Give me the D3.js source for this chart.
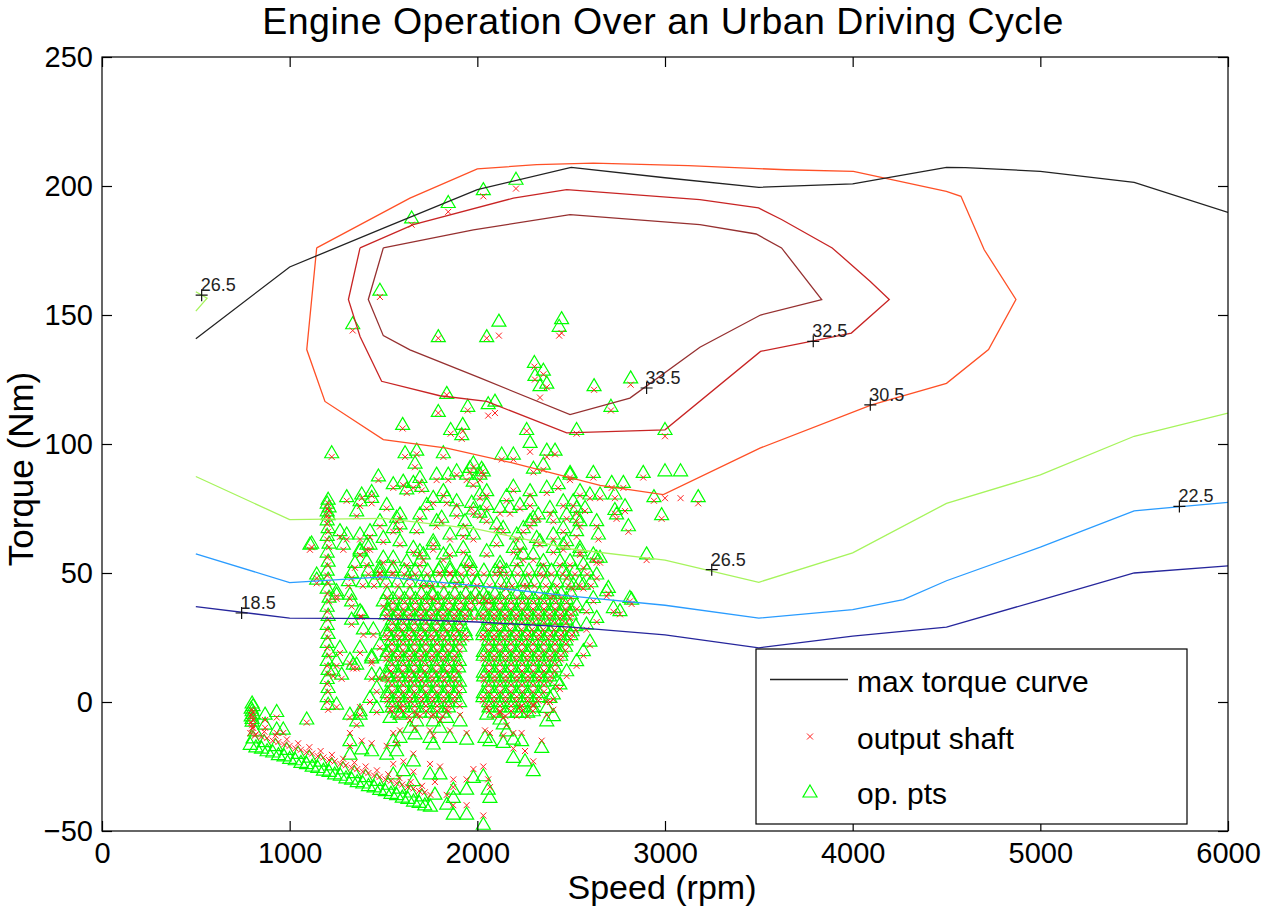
<!DOCTYPE html>
<html>
<head>
<meta charset="utf-8">
<script src="https://cdn.jsdelivr.net/npm/d3@7"></script>
<style>
  body { margin: 0; background: #fff; }
  svg { display: block; font-family: "Liberation Sans", Arial, Helvetica, sans-serif; }
</style>
</head>
<body>
<svg id="chart" width="1263" height="910"></svg>
<script>
// axis ticks
const xTicks = [0, 1000, 2000, 3000, 4000, 5000, 6000];
const yTicks = [-50, 0, 50, 100, 150, 200, 250];

// max torque curve
const maxTorqueRpm = [500, 1000, 1500, 2000, 2500, 3000, 3500, 4000, 4500, 4600, 5000, 5500, 6000];
const maxTorqueNm = [140.8, 168.6, 183.7, 198.6, 207.2, 203.2, 199.5, 200.8, 207.2, 207.1, 205.7, 201.4, 189.8];

// efficiency contours, [rpm, Nm]
const c185 = [[500,37],[1000,32.5],[1500,32.3],[2000,31],[2500,29],[3000,26],[3500,21],[4000,25.5],[4500,29],[5000,39.5],[5500,50],[6000,52.8]];
const c225 = [[500,57.4],[1000,46.3],[1500,48.5],[2000,45],[2500,41],[3000,37.5],[3500,32.5],[4000,35.8],[4270,39.7],[4500,47],[5000,60],[5500,74.1],[6000,77.4]];
const c265 = [[500,87.4],[1000,70.7],[1500,71.2],[2000,67],[2500,59.3],[3000,55],[3500,46.4],[4000,57.8],[4500,77],[5000,88],[5500,103],[6000,112]];
const c265b = [[500,151.5],[560,156.5],[500,159]];
const c305 = [[1144,176],[1641,195.3],[2000,206.6],[2316,208.3],[2618,208.9],[3124,207.9],[3644,206.3],[4004,205.7],[4499,197.9],[4577,196],[4701,175.3],[4870,156],[4724,136.6],[4500,123.5],[4101,115.2],[3506,98.4],[2991,80.4],[2654,84],[2192,92.6],[1837,98.4],[1499,101.7],[1188,116.5],[1091,136.6],[1144,176]];
const c325 = [[1375,176],[1313,156],[1375,141.7],[1490,124.3],[1800,118.7],[2050,116.5],[2476,104.3],[3000,105.5],[3509,135.9],[3778,139.8],[3993,143],[4195,156],[4094,163],[3891,176],[3621,187],[3498,191.5],[3186,194.7],[2476,198.6],[2192,195.3],[1659,185],[1375,176]];
const c335 = [[1499,176],[1419,156],[1499,142],[1641,136.5],[2014,125.6],[2494,111.4],[2813,117.8],[3186,137.5],[3509,150],[3835,156],[3621,176],[3486,181.4],[3186,185],[2494,188.9],[1979,183],[1499,176]];

const contourColors = ["#26269c", "#2a9cff", "#a6f45c", "#a6f45c", "#ff5026", "#c82424", "#963030"];

// contour labels
const labelText = ["26.5", "18.5", "33.5", "32.5", "30.5", "26.5", "22.5"];
const labelRpm = [531, 744, 2902, 3790, 4094, 3249, 5741];
const labelNm = [157.7, 34.5, 121.7, 139.8, 115.2, 51.3, 75.8];

// operating points: [rpm, engine torque, output shaft torque]
const upperPts = [
  [1650,188,185],[1845,194,190],[2032,199,196],[2206,203,199],
  [1481,160,157],[1336,147,144],[1792,142,141],[2050,142,141],[2115,148,142],[2449,149,143],[2436,146,142],
  [2304,132,130],[2352,129,127],[2307,127,125],[2370,124,122],[2334,123,118],
  [2622,123,121],[2817,126,123],[2712,115,113],[3000,106,103],[2529,106,104],[2263,106,105],
  [1837,120,119],[1792,113,112],[1949,115,113],[2058,116,111],[2094,117,112],[1602,108,106],
  [1858,106,104],[1922,108,105],[2281,101,97],[1917,104,102]
];
const midPts = [
  [1224,97,95],[1615,97,95],[1677,98,96],[1668,93,91],[1819,97,95],[1979,93,91],[2023,91,89],[2130,96.5,94],
  [2192,96.5,94],[2299,91,89],[2352,92.6,90],[2370,98,95],[2414,98,96],[2494,89.4,87],[2618,89.4,87],
  [2716,85.5,83],[2778,85.5,83],[2884,89.4,87],[3000,90,79],[3083,90,79],[3177,80,77],[2941,80,78],
  [2982,73,71],[2805,68.7,66],[2733,75,73],
  [1473,88,86],[1304,80,78],[1384,81,79],[1437,82,80],[1552,85,83],[1605,86,84],[1694,87.4,85],[1765,79.7,77],
  [1819,82.3,80],[1890,90,88],[1961,91.3,89],[1978,86,84],[2032,90,88],[2050,82.3,80],[2192,84,82],[2281,82.3,80],
  [2370,83.6,81],[2431,85,83],[2494,88.7,86],[2547,82.3,80],[2574,75.8,74],
  [1659,85.5,83],[1624,83,81],[1704,84,82],[1783,88.7,86],[1845,88.7,86],[1943,88.7,86],[2014,88.7,86],
  [1837,79.7,77],[1890,78.4,76],[1979,75.2,73],[2014,81,79],[2156,80.4,78],[2281,78.4,76],[2458,78.4,76],
  [2529,75.8,73],[2529,72,70],[2600,81,79],[2654,81,79],[2733,81,79],[2787,76.5,74],[2742,73.3,71],
  [2050,77,75],[2121,75.8,73],[2227,77,75],[2298,72,70],[2405,72,70],[2476,73.3,71],[2529,66.8,64],
  [1588,73.3,71],[1517,77,75],[1437,79.7,77],[1375,78.4,76],[1357,74.5,72],[1481,70.7,68],[1552,68,66],
  [1677,68,66],[1783,70.7,68],[1854,65.5,63],[1925,66.8,64],[1979,65.5,63],[2050,72,70],[2138,68,66],
  [2210,65.5,63],[2405,65.5,63],[1375,65.5,63],[1268,66.8,64],[1428,66.8,64],
  [1304,65.5,63],[1588,69.4,67],[1570,72,70],[1694,73.3,71],[1730,77,75],[1810,72,70],[1890,74.5,72],
  [1934,70.7,68],[1970,77.8,75],[2014,74,72],[2103,69.4,67],[2174,75.8,73],[2245,68,66],[2281,70.7,68],
  [2325,73.3,71],[2387,75.8,73],[2458,68,66],[2511,78.4,76],[2547,70.7,68],[2636,70.7,68],[2645,65.5,63]
];
const partLoadPts = [
  [1108,61.6,59],[1411,61.6,59],[1499,64.2,62],[1117,62,60],[1286,61.6,59],[1330,50.6,48],[1375,59,57],
  [1428,61.6,59],[1411,55.2,53],[1481,52.6,50],[1552,56.5,54],[1659,60.3,58],[1694,55.2,53],[1765,62.9,61],
  [1819,57.8,55],[1854,52.6,50],[1925,60.3,58],[1961,54.5,52],[2050,59,57],[2103,62.9,61],[2121,54.5,52],
  [2192,60.3,58],[2245,57.8,55],[2316,64.2,62],[2352,55.2,53],[2405,60.3,58],[2476,62.9,61],[2494,55.2,53],
  [2547,60.3,58],[2618,57.8,55],
  [1144,50,48],[1250,43.5,41],[1321,42.2,40],[1375,59.7,57],[1499,56.5,54],[1481,50,48],[1552,52.6,50],
  [1624,55.2,53],[1641,50,48],[1712,57.8,55],[1730,47.4,45],[1765,42.2,40],[1801,52.6,50],[1854,59,57],
  [1890,48.7,46],[1943,55.2,53],[1997,47.4,45],[2050,40.9,39],[2121,52.6,50],[2156,46.1,44],[2210,55.2,53],
  [2263,47.4,45],[2298,57.8,55],[2352,51.3,49],[2405,43.5,41],[2440,55.2,53],[2476,50,48],[2511,46.1,44],
  [2565,53.9,52],[2565,46.1,44],[2618,40.9,39],[2689,43.5,41],[2725,37,35],[2813,40.9,39],[2902,57.8,55],
  [2654,56.5,54],[2636,50,48],[2582,37,35],[2636,33.2,31],[2760,35.8,34],[2822,40.3,38],[2698,44.8,42],
  [2227,61.6,59],[2334,62.9,61],[2458,61.6,59],[2547,59,57],[2636,56.5,54],[1588,62.9,61],[1694,59,57],
  [1765,61.6,59],[1313,47.4,45],[1348,54.5,52],[1144,48,46],
  [1250,42.2,40],[1330,39.6,37],[1330,32.5,30],[1384,35.1,33],[1393,28.7,26],[1268,21.6,19],[1375,21.6,19],
  [1339,15.1,13],[1232,12.5,10],[1437,17.5,15],[1481,11.2,9],[1250,16.4,14],[1321,17,15],[1357,15.1,13],
  [1277,11.2,9],[1250,-0.4,-2],[1375,35.8,33],[1446,28.7,26],[1437,18.3,16],[1437,11.2,9],[1464,6.1,4],
  [1428,2.2,0],[1375,-3,-5],[1464,-1.7,-4],[1321,-4.3,-6],[1091,-6.2,-8],[1357,-6.9,-9],[1481,22.9,21],
  [1499,39.6,37],
  [2582,30.6,28],[2600,24,22],[2565,20.3,18],[2529,16.4,14],[2476,12.5,10],[2440,7.4,5],[2405,3.5,1],
  [2423,8.8,6],[2387,2.2,0]
];
// column of points held at 1200 rpm
const columnPts = [
  [1205,79,77],[1200,77.5,75],[1210,76,74],[1200,74.5,72],[1205,73,71],[1200,71,69],[1205,68,66],[1200,65,63],
  [1210,62,60],[1200,58.5,56],[1205,55,53],[1200,51.5,49],[1205,48,46],[1200,44.5,42],[1210,41,39],[1200,37.5,35],
  [1205,34,32],[1200,30.5,28],[1205,27,25],[1200,23.5,21],[1210,20,18],[1200,16.5,14],[1205,13,11],[1200,9.5,7],
  [1205,6,4],[1200,2.5,0],[1205,-0.5,-3]
];
const idlePts = [
  [800,0,-3],[805,-1,-4],[795,-2,-5],[800,-3,-6],[805,-4,-7],[795,-5,-8],[800,-6,-9],[800,-7,-10],
  [869,-4.3,-7],[931,-3.3,-6],[869,-8.2,-10],[931,-10.1,-12],[966,-10.1,-12],[815,-10.8,-13]
];
// deceleration band
const decelPts = [
  [790,-16,-12],[820,-17,-12.5],[850,-17.5,-13.5],[880,-18.5,-14],[910,-19,-15],[940,-20,-15.5],[970,-20.5,-16.5],
  [1000,-21.5,-17],[1030,-22,-18],[1060,-23,-18.5],[1090,-23.5,-19.5],[1120,-24.5,-20],[1150,-25,-21],
  [1180,-26,-21.5],[1210,-26.5,-22.5],[1240,-27.5,-23],[1270,-28,-24],[1300,-29,-24.5],[1330,-29.5,-25.5],
  [1360,-30.5,-26],[1390,-31,-27],[1420,-32,-27.5],[1450,-32.5,-28.5],[1480,-33.5,-29],[1510,-34,-30],
  [1540,-35,-30.5],[1570,-35.5,-31.5],[1600,-36.5,-32],[1630,-37,-33],[1660,-38,-33.5],[1690,-38.5,-34.5],
  [1720,-39.5,-35],[1750,-40,-36],
  [805,-13.5,-10],[865,-15,-11.5],[925,-16.5,-13],[985,-18,-14.5],[1045,-19.5,-16],[1105,-21,-17.5],
  [1165,-22.5,-19],[1225,-24,-20.5],[1285,-25.5,-22],[1345,-27,-23.5],[1405,-28.5,-25],[1465,-30,-26.5],
  [1525,-31.5,-28],[1585,-33,-29.5],[1645,-34.5,-31],[1705,-36,-32.5]
];
const lowPts = [
  [1321,-14.6,-12],[1321,-19.8,-17],[1384,-17.8,-15],[1437,-18.5,-16],[1517,-19.8,-17],[1552,-14.6,-12],
  [1588,-13.3,-11],[1570,-18.5,-16],[1659,-22.4,-20],[1606,-26.2,-23],[1552,-27.5,-24],[1659,-30.1,-27],
  [1748,-27.5,-24],[1801,-27.5,-25],[1774,-35.3,-31],[1837,-39.2,-36],[1872,-36.6,-33],[1872,-43.1,-40],
  [1943,-43.1,-40],[2032,-47,-44],[1872,-33.4,-30],[1943,-33.4,-30],[1979,-28.8,-26],[2032,-28.2,-25],
  [2058,-33.4,-30],[2067,-36.6,-33],[1641,-9.4,-7],[1668,-12,-10],[1748,-13.3,-11],[1765,-15.9,-13],
  [1854,-13.3,-11],[1943,-14,-12],[2041,-13.3,-11],[2067,-14.6,-12],[2138,-15.3,-13],[2192,-14,-12],
  [2156,-10.8,-9],[2236,-14.6,-12],[2192,-21.1,-18],[2254,-22.4,-19],[2298,-26.2,-23],[2343,-17.2,-15],
  [2138,-8.1,-6],[2227,-3.6,-2],[2298,-3,-1],[2370,-1.7,0],[2405,-4.9,-3],[2370,-6.9,-5],[2121,-6.2,-4],
  [2050,-4.3,-2],[1908,-6.9,-5],[1837,-5.6,-3],[1765,-6.9,-5],[1677,-6.9,-5],[1588,-4.3,-2],[1535,-5.6,-3],
  [1801,-9.4,-7],[1375,-4.3,-2]
];
// dense urban cluster, rows of [engine torque, shaft torque, rpm list]
const denseRows = [
  [51.5, 49.5, [1420,1480,1545,1610,1670,1735,1795,1855,1915,1975,2035,2095,2155,2215,2275,2335,2395,2455,2520,2585]],
  [47, 45, [1390,1450,1515,1575,1640,1700,1760,1820,1880,1940,2000,2065,2125,2185,2245,2305,2365,2425,2485,2545,2605]],
  [42.5, 40.5, [1520,1583,1641,1702,1758,1822,1880,1938,1990,2035,2094,2150,2212,2268,2330,2388,2446,2500]],
  [40.5, 38.5, [1550,1612,1670,1730,1790,1850,1910,1965,2010,2062,2122,2180,2240,2300,2358,2418,2475]],
  [38, 36, [1548,1606,1668,1723,1787,1845,1903,1962,2060,2118,2178,2240,2297,2355,2415,2470,2530]],
  [36, 34, [1520,1580,1640,1700,1760,1818,1878,1936,2030,2090,2148,2208,2266,2326,2386,2444,2500]],
  [34.5, 32.5, [1514,1577,1633,1698,1752,1815,1876,1935,1985,2032,2090,2148,2205,2266,2325,2384,2440,2495]],
  [32.5, 30.5, [1548,1606,1666,1726,1786,1846,1906,2060,2120,2178,2238,2296,2356,2414,2472]],
  [30, 28, [1542,1600,1660,1722,1780,1838,1900,2058,2117,2176,2236,2292,2352,2410,2468,2525]],
  [28, 26, [1515,1575,1635,1695,1755,1815,1875,1935,2030,2090,2150,2210,2270,2328,2388,2446,2505]],
  [26.5, 24.5, [1520,1582,1640,1700,1762,1820,1882,1940,2030,2088,2146,2206,2264,2324,2380,2440,2498]],
  [24.5, 22.5, [1545,1605,1665,1725,1785,1845,1905,2060,2118,2178,2238,2296,2354,2414,2472]],
  [22, 20, [1546,1604,1666,1725,1786,1844,1906,2060,2120,2178,2236,2294,2356,2414,2470]],
  [20, 18, [1520,1580,1640,1700,1760,1820,1880,2032,2090,2150,2210,2268,2328,2388,2445]],
  [18.5, 16.5, [1515,1575,1638,1695,1756,1816,1874,2032,2090,2150,2208,2266,2326,2386,2444]],
  [16.5, 14.5, [1546,1606,1664,1724,1786,1846,1904,2062,2120,2180,2240,2298,2356,2415]],
  [14, 12, [1540,1602,1660,1720,1782,1840,1900,2062,2120,2180,2238,2298,2355,2412]],
  [12, 10, [1515,1575,1636,1696,1756,1816,1876,2032,2092,2152,2210,2270,2330,2390]],
  [10.5, 8.5, [1522,1580,1642,1700,1760,1822,1880,2034,2092,2150,2210,2268,2328,2385]],
  [8.5, 6.5, [1545,1605,1665,1725,1785,1845,1905,2060,2120,2180,2238,2298,2355]],
  [6, 4, [1546,1606,1664,1726,1784,1846,1904,2060,2122,2178,2240,2296,2356]],
  [4, 2, [1520,1580,1640,1700,1760,1820,1880,2032,2090,2150,2210,2268,2328]],
  [2.5, 0.5, [1520,1580,1640,1702,1760,1820,1878,2030,2090,2150,2208,2268,2326]],
  [0.5, -1.5, [1548,1606,1666,1726,1786,1846,1906,2060,2120,2180,2238,2298]],
  [-1.5, -3.5, [1546,1604,1666,1726,1786,1846,2062,2120,2180,2238,2296]],
  [-3.5, -5.5, [1575,1635,1695,1755,1815,2090,2150,2210,2268]]
];

const densePts = [];
denseRows.forEach(r => r[2].forEach(rpm => densePts.push([rpm, r[0], r[1]])));
const opPts = [].concat(upperPts, midPts, partLoadPts, columnPts, idlePts, decelPts, lowPts, densePts);

const svg = d3.select("#chart");
const plotL = 102, plotR = 1228, plotT = 57, plotB = 831;

const x = d3.scaleLinear().domain([0, 6000]).range([plotL, plotR]);
const y = d3.scaleLinear().domain([-50, 250]).range([plotB, plotT]);

const plot = svg.append("g");
plot.append("clipPath").attr("id", "clip")
  .append("rect").attr("x", plotL).attr("y", plotT).attr("width", plotR - plotL).attr("height", plotB - plotT);
const inner = plot.append("g").attr("clip-path", "url(#clip)");

const triPath = "M0,-6L7,6L-7,6Z";
const crossPath = "M-3,-3L3,3M-3,3L3,-3";

// op. pts
inner.selectAll(".op").data(opPts).enter().append("path")
  .attr("class", "op")
  .attr("d", triPath)
  .attr("transform", d => "translate(" + x(d[0]) + "," + y(d[1]) + ")")
  .attr("fill", "none")
  .attr("stroke", "#00ff00")
  .attr("stroke-width", 1.2);

// output shaft
inner.selectAll(".shaft").data(opPts).enter().append("path")
  .attr("class", "shaft")
  .attr("d", crossPath)
  .attr("transform", d => "translate(" + x(d[0]) + "," + y(d[2]) + ")")
  .attr("fill", "none")
  .attr("stroke", "#ff2020")
  .attr("stroke-width", 1);

// contours
const line = d3.line().x(d => x(d[0])).y(d => y(d[1]));
const contours = [c185, c225, c265, c265b, c305, c325, c335];
contours.forEach((c, i) => {
  inner.append("path")
    .datum(c)
    .attr("fill", "none")
    .attr("stroke", contourColors[i])
    .attr("stroke-width", 1.3)
    .attr("d", line);
});

// max torque curve
const maxTorque = maxTorqueRpm.map((r, i) => [r, maxTorqueNm[i]]);
inner.append("path")
  .datum(maxTorque)
  .attr("fill", "none")
  .attr("stroke", "#222")
  .attr("stroke-width", 1.3)
  .attr("d", line);

// contour labels
labelText.forEach((t, i) => {
  const px = x(labelRpm[i]), py = y(labelNm[i]);
  inner.append("path")
    .attr("d", "M-6,0H6M0,-6V6")
    .attr("transform", "translate(" + px + "," + py + ")")
    .attr("stroke", "#111")
    .attr("stroke-width", 1.2);
  inner.append("text")
    .attr("x", px - 1)
    .attr("y", py - 4)
    .attr("font-size", 18)
    .attr("fill", "#222")
    .text(t);
});

// axes, ticks inside on all four sides
const xAxis = d3.axisBottom(x).tickValues(xTicks).tickFormat(d3.format("d"))
  .tickSizeInner(-10).tickSizeOuter(0).tickPadding(11);
const yAxis = d3.axisLeft(y).tickValues(yTicks).tickFormat(d3.format("d"))
  .tickSizeInner(-10).tickSizeOuter(0).tickPadding(9);

svg.append("g").attr("transform", "translate(0," + plotB + ")").call(xAxis);
svg.append("g").attr("transform", "translate(" + plotL + ",0)").call(yAxis);
svg.append("g").attr("transform", "translate(0," + plotT + ")")
  .call(d3.axisTop(x).tickValues(xTicks).tickSizeInner(-10).tickSizeOuter(0).tickFormat(""));
svg.append("g").attr("transform", "translate(" + plotR + ",0)")
  .call(d3.axisRight(y).tickValues(yTicks).tickSizeInner(-10).tickSizeOuter(0).tickFormat(""));

svg.selectAll(".domain").remove();
svg.selectAll(".tick line").attr("stroke", "#000").attr("stroke-width", 1.2);
svg.selectAll(".tick text")
  .attr("font-size", 29)
  .attr("fill", "#000")
  .attr("font-family", "'Liberation Sans', Arial, sans-serif");

svg.append("rect")
  .attr("x", plotL).attr("y", plotT)
  .attr("width", plotR - plotL).attr("height", plotB - plotT)
  .attr("fill", "none").attr("stroke", "#000").attr("stroke-width", 1.2);

// titles
svg.append("text")
  .attr("x", 663).attr("y", 34)
  .attr("text-anchor", "middle")
  .attr("font-size", 37.5)
  .attr("letter-spacing", 0.5)
  .text("Engine Operation Over an Urban Driving Cycle");

svg.append("text")
  .attr("x", 662).attr("y", 899)
  .attr("text-anchor", "middle")
  .attr("font-size", 34)
  .text("Speed (rpm)");

svg.append("text")
  .attr("transform", "translate(33,469) rotate(-90)")
  .attr("text-anchor", "middle")
  .attr("font-size", 35)
  .text("Torque (Nm)");

// legend
const legend = svg.append("g");
legend.append("rect")
  .attr("x", 756).attr("y", 649)
  .attr("width", 431).attr("height", 175)
  .attr("fill", "#fff").attr("stroke", "#000").attr("stroke-width", 1.2);

legend.append("line")
  .attr("x1", 770).attr("x2", 848).attr("y1", 679.5).attr("y2", 679.5)
  .attr("stroke", "#222").attr("stroke-width", 1.3);
legend.append("path")
  .attr("d", crossPath)
  .attr("transform", "translate(810,736.5)")
  .attr("fill", "none").attr("stroke", "#ff2020").attr("stroke-width", 1);
legend.append("path")
  .attr("d", triPath)
  .attr("transform", "translate(810,791)")
  .attr("fill", "none").attr("stroke", "#00ff00").attr("stroke-width", 1.2);

const legendText = ["max torque curve", "output shaft", "op. pts"];
const legendY = [691.5, 748.5, 803.5];
legendText.forEach((t, i) => {
  legend.append("text")
    .attr("x", 857).attr("y", legendY[i])
    .attr("font-size", 30)
    .text(t);
});
</script>
</body>
</html>
